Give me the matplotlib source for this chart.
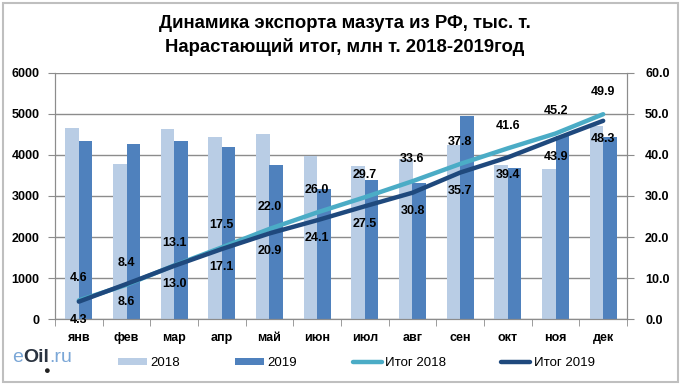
import matplotlib
matplotlib.use("Agg")
import matplotlib.pyplot as plt
import numpy as np
from matplotlib.patches import Rectangle

# data
months = ["янв", "фев", "мар", "апр", "май", "июн",
          "июл", "авг", "сен", "окт", "ноя", "дек"]
export_2018 = [4650, 3780, 4620, 4430, 4520, 3970, 3740, 3900, 4230, 3760, 3650, 4700]
export_2019 = [4330, 4260, 4330, 4190, 3760, 3160, 3400, 3320, 4950, 3690, 4470, 4440]
total_2018 = [4.6, 8.4, 13.1, 17.5, 22.0, 26.0, 29.7, 33.6, 37.8, 41.6, 45.2, 49.9]
total_2019 = [4.3, 8.6, 13.0, 17.1, 20.9, 24.1, 27.5, 30.8, 35.7, 39.4, 43.9, 48.3]

plt.rcParams['font.family'] = ['Liberation Sans', 'DejaVu Sans']

c18 = "#B9CDE5"
c19 = "#4F81BD"
l18 = "#4BACC6"
l19 = "#1F497D"
grid_c = "#8C8C8C"

fig = plt.figure(figsize=(6.82, 3.89), dpi=100)
ax = fig.add_axes([55 / 682, 1 - 319.3 / 389, 572 / 682, 246.6 / 389])
ax2 = ax.twinx()

x = np.arange(len(months))
w = 0.28
ax.bar(x - w / 2, export_2018, w, color=c18, label="2018", zorder=2)
ax.bar(x + w / 2, export_2019, w, color=c19, label="2019", zorder=2)

ax.set_xlim(-0.5, 11.5)
ax.set_ylim(0, 6000)
ax.set_yticks(range(0, 6001, 1000))
ax.grid(axis="y", color=grid_c, linewidth=1, zorder=0)
ax.set_axisbelow(True)

ax.set_xticks(x)
ax.set_xticklabels(months, fontsize=9, fontweight="bold")
ax.set_xticks(np.arange(-0.5, 12, 1), minor=True)
ax.tick_params(axis="x", which="major", length=0, pad=9)
ax.tick_params(axis="x", which="minor", length=5, color=grid_c)
ax.tick_params(axis="y", length=5, color=grid_c, labelsize=9, pad=6)
for lab in ax.get_yticklabels():
    lab.set_fontweight("bold")

ax2.plot(x, total_2018, color=l18, linewidth=3.2, label="Итог 2018",
         solid_capstyle="round", zorder=3)
ax2.plot(x, total_2019, color=l19, linewidth=3.2, label="Итог 2019",
         solid_capstyle="round", zorder=3)
ax2.set_ylim(0, 60)
ax2.set_yticks(range(0, 61, 10))
ax2.set_yticklabels([f"{v:.1f}" for v in range(0, 61, 10)],
                    fontsize=9, fontweight="bold")
ax2.tick_params(axis="y", length=5, color=grid_c, pad=8)

for xi, v in zip(x, total_2018):
    ax2.annotate(f"{v:.1f}", (xi, v), xytext=(0, 16), textcoords="offset points",
                 ha="center", va="center", fontsize=9, fontweight="bold", zorder=5)
for xi, v in zip(x, total_2019):
    ax2.annotate(f"{v:.1f}", (xi, v), xytext=(0, -13), textcoords="offset points",
                 ha="center", va="center", fontsize=9, fontweight="bold", zorder=5)

for a in (ax, ax2):
    a.spines["top"].set_visible(False)
    for s in ("left", "right", "bottom"):
        a.spines[s].set_color(grid_c)

# title
fig.text(0.505, 1 - 24 / 389, "Динамика экспорта мазута из РФ, тыс. т.",
         ha="center", va="center", fontsize=13.3, fontweight="bold")
fig.text(0.505, 1 - 47.5 / 389, "Нарастающий итог, млн т. 2018-2019год",
         ha="center", va="center", fontsize=13.3, fontweight="bold")

# legend
h1, lb1 = ax.get_legend_handles_labels()
h2, lb2 = ax2.get_legend_handles_labels()
fig.legend(h1 + h2, lb1 + lb2, loc="center left", bbox_to_anchor=(106 / 682, 1 - 363 / 389),
           ncol=4, frameon=False, fontsize=9.5, handlelength=2.2, handleheight=0.5,
           handletextpad=0.25, columnspacing=4.2)

# eOil.ru logo, pieces placed one after another
fig.canvas.draw()
r = fig.canvas.get_renderer()
xpos = 12
drop_x = None
for txt, col, wt in [("e", "#7BA7D7", "normal"), ("Oil", "#2A3340", "bold"),
                     (".ru", "#7BA7D7", "normal")]:
    t = fig.text(xpos / 682, 1 - 357 / 389, txt, color=col, fontsize=14,
                 fontweight=wt, va="center")
    xpos += t.get_window_extent(r).width
    if txt == "Oil":
        drop_x = xpos - 2
fig.text(drop_x / 682, 1 - 371 / 389, "●", color="#222222", fontsize=8,
         ha="center", va="center")

# outer frame
fig.patches.append(Rectangle((3 / 682, 1 - 382 / 389), 675 / 682, 379 / 389,
                             transform=fig.transFigure, fill=False,
                             edgecolor="#BFBFBF", linewidth=1.5))

fig.savefig("out.png", dpi=100)
